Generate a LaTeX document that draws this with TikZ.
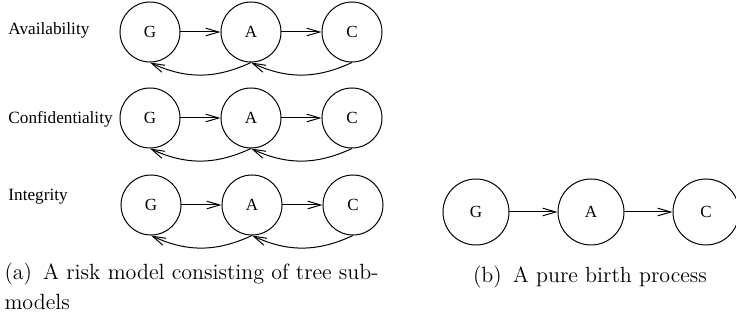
\documentclass[tikz,border=0pt]{standalone}
\usepackage{fontspec}
\newfontfamily\timesfont{Liberation Serif}
\usetikzlibrary{arrows.meta, positioning}

\begin{document}
\begin{tikzpicture}[
    x=0.5pt, y=0.5pt,
    line width=0.5pt,
    node distance=0pt and 20pt,
    state/.style={
        circle,
        draw,
        minimum size=30pt,
        inner sep=0pt,
        font=\timesfont\fontsize{8.5}{10}\selectfont
    },
    bigstate/.style={
        state,
        minimum size=33pt
    },
    rowlabel/.style={
        anchor=west,
        inner sep=0pt,
        font=\timesfont\fontsize{8.6}{10}\selectfont
    },
    caption/.style={
        inner sep=0pt,
        font=\fontsize{11}{15}\selectfont
    },
    arrow/.style={-{Straight Barb[length=6.5pt, width=3.8pt]}}
]
\useasboundingbox (0,0) rectangle (736,-320);

% (a) three sub-models
\node[rowlabel] (avail) at (8,-30) {Availability};
\node[state] (g1) at (150,-32) {G};
\node[state, right=of g1] (a1) {A};
\node[state, right=of a1] (c1) {C};

\node[rowlabel] (conf) at (8,-119) {Confidentiality};
\node[state] (g2) at (150,-118) {G};
\node[state, right=of g2] (a2) {A};
\node[state, right=of a2] (c2) {C};

\node[rowlabel] (integ) at (8,-197) {Integrity};
\node[state] (g3) at (151,-205) {G};
\node[state, right=of g3] (a3) {A};
\node[state, right=of a3] (c3) {C};

\draw[arrow] (g1) -- (a1);
\draw[arrow] (a1) -- (c1);
\draw[arrow] (a1.south) to[out=205, in=-25] (g1.south);
\draw[arrow] (c1.south) to[out=205, in=-25] (a1.south);

\draw[arrow] (g2) -- (a2);
\draw[arrow] (a2) -- (c2);
\draw[arrow] (a2.south) to[out=205, in=-25] (g2.south);
\draw[arrow] (c2.south) to[out=205, in=-25] (a2.south);

\draw[arrow] (g3) -- (a3);
\draw[arrow] (a3) -- (c3);
\draw[arrow] (a3.south) to[out=205, in=-25] (g3.south);
\draw[arrow] (c3.south) to[out=205, in=-25] (a3.south);

% (b) pure birth process
\node[bigstate] (gb) at (476,-212) {G};
\node[bigstate, right=24pt of gb] (ab) {A};
\node[bigstate, right=24pt of ab] (cb) {C};

\draw[arrow] (gb) -- (ab);
\draw[arrow] (ab) -- (cb);

\node[caption, anchor=north west, align=left] (capa) at (4,-263)
    {(a)\enspace A risk model consisting of tree sub-\\models};
\node[caption] (capb) at (590,-277) {(b)\enspace A pure birth process};
\end{tikzpicture}
\end{document}
